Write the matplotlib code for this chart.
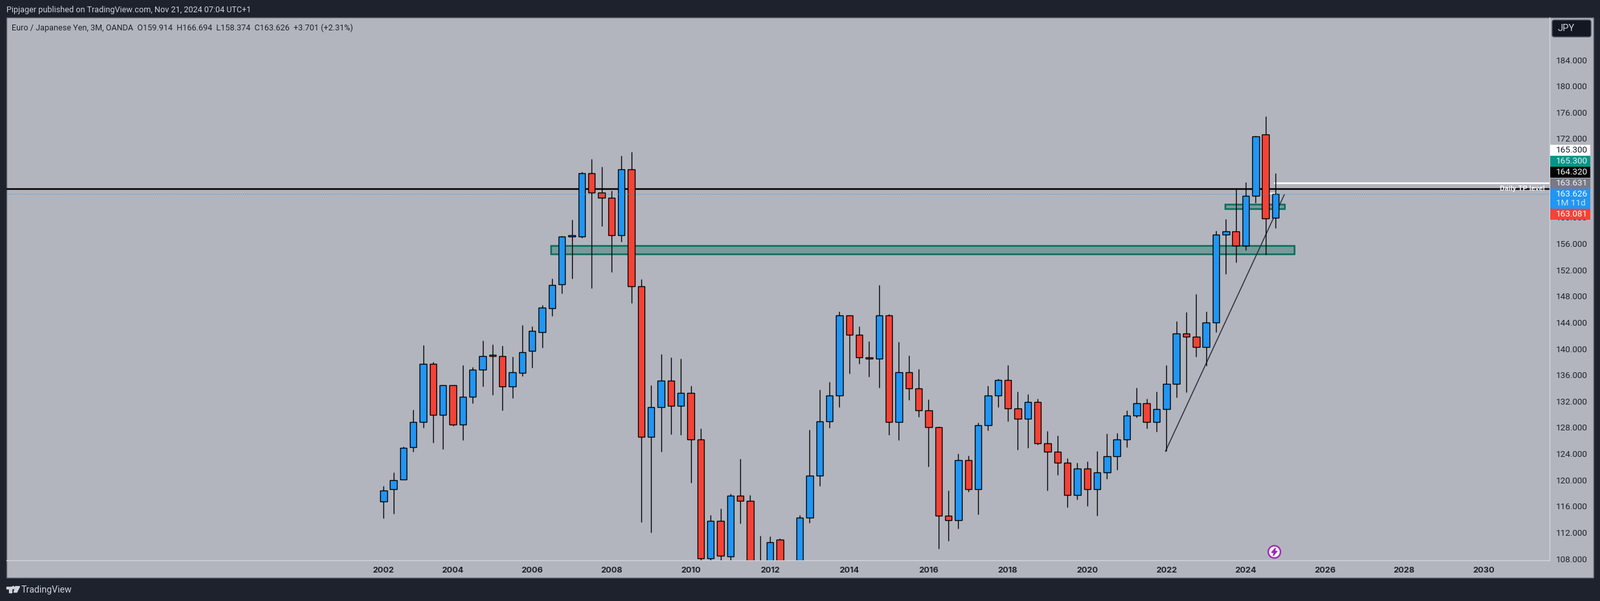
import matplotlib
matplotlib.use("Agg")
import matplotlib.pyplot as plt
from matplotlib.patches import Rectangle, Circle, Polygon, FancyBboxPatch

# quarterly candles, first one is 2002 Q2
opens = [116.69, 118.56, 120.04, 124.96, 128.80, 137.66, 129.88, 134.41, 128.41, 132.64,
         136.77, 139.10, 138.84, 134.21, 136.28, 139.63, 142.55, 146.12, 149.76, 157.05,
         157.11, 166.69, 163.74, 162.95, 157.31, 167.28, 149.47, 126.53, 131.06, 135.10,
         131.26, 133.23, 126.15, 108.10, 113.75, 108.33, 117.58, 116.80, 104.50, 101.50,
         110.89, 100.00, 105.00, 114.24, 120.63, 128.90, 132.84, 145.04, 142.09, 138.65,
         138.45, 145.04, 128.80, 136.38, 133.92, 130.58, 128.02, 114.53, 113.84, 123.00,
         118.57, 128.31, 132.84, 135.20, 130.87, 129.29, 131.85, 125.55, 124.27, 122.60,
         117.68, 121.71, 118.56, 121.12, 123.58, 126.14, 129.78, 131.65, 128.80, 130.77,
         134.61, 142.28, 141.79, 140.21, 143.95, 157.34, 157.84, 155.67, 163.25, 172.60,
         159.914]
highs = [119.05, 121.12, 125.06, 130.67, 140.51, 137.95, 134.41, 134.41, 137.46, 137.17,
         141.20, 140.61, 140.41, 138.74, 143.56, 143.40, 146.61, 150.68, 157.18, 159.64,
         166.92, 168.89, 167.71, 164.07, 169.38, 169.97, 150.59, 134.41, 139.14, 138.64,
         138.45, 134.32, 127.82, 114.63, 115.62, 117.88, 123.23, 117.68, 111.51, 111.38,
         111.09, 106.00, 114.63, 127.62, 133.76, 134.91, 145.63, 145.04, 143.37, 141.11,
         149.67, 145.27, 141.01, 138.94, 136.87, 132.25, 128.12, 118.37, 123.98, 123.69,
         128.71, 134.32, 135.40, 137.46, 133.42, 133.03, 132.37, 127.42, 126.76, 123.29,
         122.60, 122.79, 124.37, 127.03, 127.12, 130.57, 134.01, 132.34, 133.42, 137.46,
         144.15, 145.53, 148.28, 145.63, 157.96, 159.71, 164.23, 165.32, 172.40, 175.39,
         166.694]
lows = [114.20, 114.89, 120.04, 124.34, 127.98, 125.72, 124.73, 128.27, 126.11, 131.72,
        134.28, 133.00, 130.64, 132.51, 135.85, 137.13, 140.18, 145.01, 148.45, 150.72,
        156.92, 149.24, 158.69, 151.70, 156.33, 146.98, 113.61, 112.03, 124.34, 126.99,
        126.89, 119.62, 106.00, 106.50, 106.50, 106.00, 113.42, 103.00, 100.00, 97.00,
        94.00, 95.00, 104.00, 113.52, 119.13, 127.98, 131.13, 136.25, 137.73, 135.76,
        134.09, 126.90, 126.11, 132.22, 129.66, 122.08, 109.58, 110.76, 112.63, 118.24,
        114.79, 127.56, 131.13, 128.96, 124.63, 124.93, 125.42, 118.43, 120.79, 115.87,
        117.05, 116.07, 114.56, 120.20, 121.58, 125.03, 129.55, 127.88, 127.39, 124.37,
        132.60, 133.39, 138.80, 137.39, 142.54, 151.40, 153.18, 155.05, 162.24, 154.36,
        158.374]
closes = [118.37, 120.01, 124.93, 128.80, 137.66, 129.88, 134.41, 128.41, 132.64, 136.77,
          138.84, 138.84, 134.21, 136.38, 139.43, 142.68, 146.29, 149.67, 157.05, 157.25,
          166.69, 163.74, 162.95, 157.31, 167.28, 149.47, 126.53, 131.06, 135.10, 131.26,
          133.23, 126.15, 108.10, 113.75, 108.43, 117.58, 116.80, 104.50, 101.50, 110.50,
          100.00, 105.00, 114.24, 120.63, 128.90, 132.84, 145.04, 142.09, 138.65, 138.45,
          145.04, 128.80, 136.38, 133.92, 130.58, 128.02, 114.53, 113.84, 123.00, 118.57,
          128.31, 132.84, 135.20, 130.87, 129.29, 131.85, 125.55, 124.27, 122.60, 117.68,
          121.71, 118.56, 121.12, 123.58, 126.14, 129.78, 131.65, 128.80, 130.77, 134.61,
          142.28, 141.79, 140.21, 143.95, 157.34, 157.84, 155.67, 163.25, 172.30, 159.81,
          163.626]

years = [2002, 2004, 2006, 2008, 2010, 2012, 2014, 2016, 2018, 2020, 2022, 2024, 2026, 2028, 2030]
# 168 and 164 sit fully behind the price tags in the original
price_ticks = [184, 180, 176, 172, 160, 156, 152, 148, 144, 140, 136, 132, 128, 124, 120, 116, 112, 108]

# drawings on the chart
level_black = 164.32
level_white = 165.30
level_white_small = 163.631
last_price = 163.626
big_zone = (154.42, 155.70)
small_zone = (161.28, 162.03)
trend_price = (124.37, 163.48)

# price tags on the axis: text, fill, text colour
tag_text = ["165.300", "165.300", "164.320", "163.631", "163.626", "163.081"]
tag_fill = ["#ffffff", "#009688", "#000000", "#787b86", "#2196f3", "#f44336"]
tag_ink = ["#131722", "#e8f5f3", "#ffffff", "#f0f3fa", "#ffffff", "#ffffff"]

title = "Pipjager published on TradingView.com, Nov 21, 2024 07:04 UTC+1"
legend = "Euro / Japanese Yen, 3M, OANDA  O159.914  H166.694  L158.374  C163.626  +3.701 (+2.31%)"

BG = "#1e222d"
PANE = "#b2b5be"
UP = "#2196f3"
DOWN = "#f44336"
W, H = 2475, 930
FONT = "Roboto"


def tick_index(year):
    # candle that opens the year, 2002 only has data from Q2
    return max((year - 2002) * 4 - 1, 0)


fig = plt.figure(figsize=(W / 100, H / 100), dpi=100, facecolor=BG)

# page furniture, drawn in pixel coordinates
back = fig.add_axes([0, 0, 1, 1], zorder=0)
back.set_xlim(0, W)
back.set_ylim(H, 0)
back.axis("off")
back.add_patch(Rectangle((10, 27), 2455, 867, facecolor=PANE, edgecolor="#5d606b", lw=1))
back.text(10, 16, title, color="#d1d4dc", fontsize=9.05, family=FONT, va="center")
back.text(18.5, 43, legend, color="#1e222d", fontsize=9.12, family=FONT, va="center")
back.add_patch(Polygon([(10, 907.5), (18, 907.5), (18, 916.5), (14, 916.5), (14, 911), (10, 911)], color="#d1d4dc"))
back.add_patch(Circle((20.5, 909.3), 1.9, color="#d1d4dc"))
back.add_patch(Polygon([(24, 907.5), (30.5, 907.5), (26, 916.5), (21.5, 916.5)], color="#d1d4dc"))
back.text(33, 913, "TradingView", color="#d1d4dc", fontsize=10.2, family=FONT, va="center")

# price scale maps to pixels: 10.16 px per yen, candles 15.33 px apart
ax = fig.add_axes([10 / W, 1 - 867 / H, 2387 / W, 840 / H], zorder=1)
ax.patch.set_alpha(0)
ax.set_xlim(-38.05, 117.66)
ax.set_ylim(107.77, 190.45)
for side in ["top", "left"]:
    ax.spines[side].set_visible(False)
for side in ["right", "bottom"]:
    ax.spines[side].set_color("#d1d4dc")
    ax.spines[side].set_linewidth(1)

ax.yaxis.tick_right()
ax.set_yticks(price_ticks)
ax.set_yticklabels(["%.3f" % p for p in price_ticks], fontsize=9.7, family=FONT, color="#1e222d")
ax.tick_params(axis="y", length=0, pad=7)
ax.set_xticks([tick_index(y) for y in years])
ax.set_xticklabels(years, fontsize=9.2, family="Inter", fontweight="bold", color="#1e222d")
ax.tick_params(axis="x", length=0, pad=7)

zone_edge = "#0b6b5c"
zone_fill = (0.04, 0.42, 0.36, 0.35)
ax.add_patch(Rectangle((16.9, big_zone[0]), 75.0, big_zone[1] - big_zone[0],
                       facecolor=zone_fill, edgecolor=zone_edge, lw=1.8, zorder=1))
ax.add_patch(Rectangle((84.9, small_zone[0]), 6.0, small_zone[1] - small_zone[0],
                       facecolor=zone_fill, edgecolor=zone_edge, lw=1.8, zorder=1))

ax.axhline(level_black, color="#000000", lw=1.8, zorder=2)
ax.plot([78.9, 90.9], trend_price, color="#2a2e39", lw=1.1, zorder=2)
ax.plot([89.8, 117.66], [level_white, level_white], color="#ffffff", lw=1.8, zorder=2, solid_capstyle="butt")
ax.plot([89.3, 89.95], [level_white_small, level_white_small], color="#ffffff", lw=1.8, zorder=2)

x = list(range(len(opens)))
colors = [UP if c >= o else DOWN for o, c in zip(opens, closes)]
bottoms = [min(o, c) for o, c in zip(opens, closes)]
heights = [abs(c - o) for o, c in zip(opens, closes)]
ax.vlines(x, lows, highs, color="#000000", lw=1.0, zorder=3)
ax.bar(x, heights, bottom=bottoms, width=0.68, color=colors, edgecolor="#000000", lw=1.0, zorder=4)

ax.axhline(last_price, color=UP, lw=0.75, ls=(0, (1.0, 1.9)), zorder=5)
ax.annotate("Daily TP level", xy=(117.2, level_black), color="#f2f3f7", fontsize=8.2, family=FONT,
            fontweight="bold", ha="right", va="center", zorder=6)

# tags and widgets sit above the tick labels
top = fig.add_axes([0, 0, 1, 1], zorder=2)
top.set_xlim(0, W)
top.set_ylim(H, 0)
top.axis("off")
tag_tops = [224, 241.3, 258, 275.5, 292.3, 323.3]
tag_bottoms = [240.7, 257.7, 275, 291.7, 322.7, 340]
for label, fill, ink, y0, y1 in zip(tag_text, tag_fill, tag_ink, tag_tops, tag_bottoms):
    top.add_patch(Rectangle((2398, y0), 62, y1 - y0, facecolor=fill, edgecolor="none"))
    yc = y0 + 8.3
    top.text(2407, yc, label, color=ink, fontsize=9.7, family=FONT, va="center")
top.text(2407, 314.5, "1M 11d", color="#cfe6fc", fontsize=9.7, family=FONT, va="center")

top.add_patch(FancyBboxPatch((2401, 31), 60, 26, boxstyle="round,pad=0,rounding_size=3",
                             facecolor="#131722", edgecolor="#4a4e5a", lw=1))
top.text(2410, 43.7, "JPY", color="#d1d4dc", fontsize=10.5, family=FONT, va="center")

top.add_patch(Circle((1971.3, 854), 9.5, facecolor="#f5eef8", edgecolor="#9c27b0", lw=1.6))
top.add_patch(Polygon([(1973, 848), (1967, 855), (1970.8, 855), (1969.5, 860), (1975.5, 853),
                       (1971.8, 853)], color="#9c27b0"))

fig.savefig("out.png", dpi=100, facecolor=BG)
